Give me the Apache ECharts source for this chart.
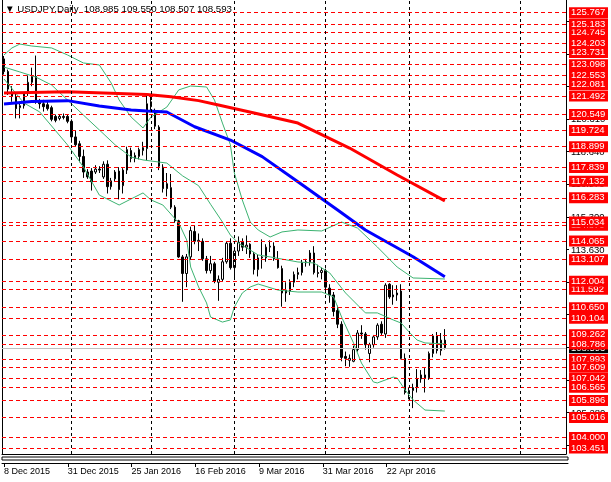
<!DOCTYPE html>
<html><head><meta charset="utf-8">
<script src="https://cdn.jsdelivr.net/npm/echarts@6/dist/echarts.min.js"></script>
<style>html,body{margin:0;padding:0;background:#fff}#c{width:611px;height:482px}</style>
</head><body><div id="c"></div>
<script>
const dates = ['8 Dec 2015','9 Dec 2015','10 Dec 2015','11 Dec 2015','14 Dec 2015','15 Dec 2015','16 Dec 2015','17 Dec 2015','18 Dec 2015','21 Dec 2015','22 Dec 2015','23 Dec 2015','24 Dec 2015','28 Dec 2015','29 Dec 2015','30 Dec 2015','31 Dec 2015',
'4 Jan 2016','5 Jan 2016','6 Jan 2016','7 Jan 2016','8 Jan 2016','11 Jan 2016','12 Jan 2016','13 Jan 2016','14 Jan 2016','15 Jan 2016','18 Jan 2016','19 Jan 2016','20 Jan 2016','21 Jan 2016','22 Jan 2016','25 Jan 2016','26 Jan 2016','27 Jan 2016','28 Jan 2016','29 Jan 2016',
'1 Feb 2016','2 Feb 2016','3 Feb 2016','4 Feb 2016','5 Feb 2016','8 Feb 2016','9 Feb 2016','10 Feb 2016','11 Feb 2016','12 Feb 2016','15 Feb 2016','16 Feb 2016','17 Feb 2016','18 Feb 2016','19 Feb 2016','22 Feb 2016','23 Feb 2016','24 Feb 2016','25 Feb 2016','26 Feb 2016','29 Feb 2016',
'1 Mar 2016','2 Mar 2016','3 Mar 2016','4 Mar 2016','7 Mar 2016','8 Mar 2016','9 Mar 2016','10 Mar 2016','11 Mar 2016','14 Mar 2016','15 Mar 2016','16 Mar 2016','17 Mar 2016','18 Mar 2016','21 Mar 2016','22 Mar 2016','23 Mar 2016','24 Mar 2016','25 Mar 2016','28 Mar 2016','29 Mar 2016','30 Mar 2016','31 Mar 2016',
'1 Apr 2016','4 Apr 2016','5 Apr 2016','6 Apr 2016','7 Apr 2016','8 Apr 2016','11 Apr 2016','12 Apr 2016','13 Apr 2016','14 Apr 2016','15 Apr 2016','18 Apr 2016','19 Apr 2016','20 Apr 2016','21 Apr 2016','22 Apr 2016','25 Apr 2016','26 Apr 2016','27 Apr 2016','28 Apr 2016','29 Apr 2016',
'2 May 2016','3 May 2016','4 May 2016','5 May 2016','6 May 2016','9 May 2016','10 May 2016','11 May 2016','12 May 2016','13 May 2016'];

const opens  = [123.40,122.75,121.60,121.45,120.90,121.00,121.65,122.20,122.50,121.20,121.10,121.05,120.90,120.45,120.35,120.45,120.45,
120.20,119.40,119.05,118.40,117.60,117.65,117.60,117.75,117.35,118.00,116.85,117.25,117.65,116.90,117.70,118.70,118.30,118.40,118.70,118.80,
121.20,120.70,119.90,117.85,117.00,116.80,115.80,115.10,113.25,112.40,113.25,114.55,114.05,114.05,113.15,112.55,112.90,111.95,112.10,113.00,113.95,
112.70,113.55,114.00,113.75,113.90,113.40,112.60,113.20,113.20,113.75,113.80,113.15,112.65,111.40,111.50,111.95,112.35,112.45,112.95,113.00,113.45,112.45,112.45,
112.55,111.65,111.30,110.50,109.80,108.15,107.95,107.90,108.50,109.35,109.30,108.30,108.75,109.15,109.80,109.30,111.85,111.20,111.30,111.50,108.05,
106.30,106.40,106.55,107.00,107.20,107.05,108.30,109.20,108.45,108.985];
const highs  = [123.55,122.85,122.00,121.60,121.20,121.70,122.55,122.95,123.57,121.35,121.30,121.25,121.00,120.55,120.55,120.60,120.55,
120.30,119.70,119.20,118.75,117.75,117.80,117.95,117.90,118.15,118.20,117.30,117.70,117.85,117.80,118.90,118.85,118.60,118.85,119.15,121.50,
121.50,120.85,120.00,118.00,117.55,117.50,115.90,115.15,113.35,113.40,114.80,114.85,114.45,114.20,113.30,113.30,113.00,112.30,113.20,114.05,114.20,
113.75,114.30,114.20,114.35,113.95,113.50,113.35,114.15,113.90,114.10,114.00,113.55,112.80,111.95,112.10,112.50,112.70,113.10,113.15,113.60,113.80,112.85,112.70,
112.65,111.85,111.45,110.75,109.95,108.40,108.25,108.70,109.50,109.75,109.40,108.85,109.25,109.85,109.95,111.90,111.90,111.80,111.80,111.85,108.30,
106.55,106.75,107.50,107.45,107.55,108.40,109.30,109.40,109.35,109.55];
const lows   = [122.60,121.55,121.20,120.35,120.35,120.85,121.50,122.00,121.10,120.85,120.70,120.75,120.20,120.15,120.25,120.30,120.10,
119.10,118.90,118.10,117.30,117.25,116.65,117.50,117.55,117.25,116.50,116.70,117.10,116.20,116.50,117.50,118.10,118.10,118.25,118.45,118.20,
120.75,119.80,117.70,116.55,116.35,115.70,115.00,113.20,110.95,111.70,113.10,113.90,113.55,113.05,112.40,112.40,111.90,111.00,112.00,112.90,112.60,
112.20,113.30,113.55,113.40,113.20,112.35,112.25,112.65,113.00,113.50,113.05,112.65,110.70,110.95,111.30,111.70,112.10,112.30,112.75,112.80,112.35,112.20,112.10,
111.40,110.90,110.20,109.60,107.90,107.65,107.62,107.85,108.40,109.05,108.50,107.85,108.60,109.00,109.25,109.10,111.10,110.80,111.00,108.00,106.20,
105.95,105.50,106.30,106.80,106.30,106.95,108.10,108.30,108.20,108.507];
const closes = [122.75,121.85,121.50,120.85,121.00,121.60,122.20,122.50,121.20,121.10,120.95,120.85,120.30,120.25,120.45,120.40,120.20,
119.40,119.00,118.40,117.60,117.35,117.10,117.75,117.70,118.00,116.85,117.15,117.60,116.70,117.70,118.75,118.30,118.45,118.75,118.85,121.10,
120.95,119.95,117.90,116.75,116.75,115.80,115.10,113.25,112.40,113.25,114.60,114.05,114.10,113.15,112.55,112.90,112.00,112.10,113.00,113.95,112.70,
113.55,114.00,113.75,113.85,113.40,112.60,113.20,113.25,113.75,113.80,113.15,112.70,111.40,111.55,111.95,112.35,112.45,112.95,113.00,113.45,112.45,112.40,112.55,
111.70,111.30,110.45,109.80,108.10,108.05,108.05,108.50,109.35,109.30,108.75,108.75,109.15,109.75,109.35,111.80,111.20,111.30,111.40,108.05,106.30,
106.40,106.55,107.00,107.20,107.05,108.30,109.20,108.45,108.985,108.593];

const maRed   = [[0,121.65],[16,121.72],[36,121.58],[42,121.46],[49,121.26],[54,121.04],[63,120.63],[74,120.11],[87,118.83],[99,117.45],[111,116.12]];
const maBlue  = [[0,121.09],[7,121.21],[16,121.26],[24,120.99],[32,120.78],[36,120.73],[41,120.68],[48,119.92],[57,119.24],[65,118.39],[74,117.10],[84,115.65],[91,114.63],[103,113.26],[111,112.23]];
const bbUpper = [[0,123.60],[2,123.96],[4,124.16],[7,124.06],[12,123.96],[16,123.60],[20,123.19],[24,123.09],[27,122.16],[29,121.29],[32,120.42],[35,119.86],[37,120.42],[41,120.93],[44,121.81],[47,122.01],[51,121.96],[53,121.29],[55,120.11],[57,119.00],[58,117.55],[60,116.17],[62,115.04],[64,114.63],[67,114.27],[70,114.53],[74,114.63],[80,114.58],[85,115.04],[89,114.73],[94,113.76],[99,112.73],[103,112.17],[111,112.12]];
const bbMiddle = [[0,122.98],[4,122.73],[8,122.47],[12,122.06],[16,121.29],[20,120.52],[24,119.76],[28,118.99],[32,118.37],[35,118.22],[41,118.06],[45,117.40],[49,116.90],[52,115.95],[55,115.04],[57,114.37],[59,113.96],[62,113.60],[64,113.35],[67,113.25],[74,112.99],[78,112.94],[82,112.43],[86,111.40],[91,110.38],[94,110.38],[98,110.02],[100,109.86],[102,109.40],[104,108.99],[106,108.84],[111,108.79]];
const bbLower = [[0,122.37],[5,121.14],[9,120.68],[16,118.99],[20,117.86],[24,116.42],[29,115.91],[35,116.53],[37,116.17],[40,115.91],[44,114.99],[46,114.12],[47,112.73],[49,111.71],[51,110.89],[52,110.17],[55,109.91],[57,110.02],[58,110.68],[60,111.40],[62,111.71],[64,111.86],[69,111.55],[74,111.45],[80,111.45],[83,111.20],[85,110.17],[88,108.84],[90,107.81],[93,106.84],[94,106.79],[98,107.09],[99,107.04],[101,106.43],[103,105.92],[106,105.40],[111,105.35]];

const levels = [125.767,125.183,124.745,124.203,123.731,123.098,122.553,122.081,121.492,120.549,119.724,118.899,117.839,117.132,116.283,115.034,114.870,114.065,113.107,112.004,111.592,110.650,110.104,109.262,108.786,107.609,107.993,107.042,106.565,105.896,105.016,104.000,103.451];
const scaleTicks = [103.61,105.28,106.95,108.62,110.29,111.96,113.63,115.30,116.97,118.64,120.31,121.98,123.65,125.32];
const lastPrice = 108.593;
const separators = [17,37,58,81,102,130];
const emptySlots = 30;
const titleText = '\u25BC USDJPY,Daily  108.985 109.550 108.507 108.593';

const Y_MIN = 103.148, Y_MAX = 126.418;
const FONT = 'Liberation Sans';
const cats = dates.concat(new Array(emptySlots).fill(''));
const candles = opens.map((o, i) => [o, closes[i], lows[i], highs[i]]);
const showAt = (i, v) => i % 16 === 0 && v !== '';
// split the level labels over two label layers so that neighbouring boxes never sit on the same axis
const levelsA = levels.filter((v, i) => i % 2 === 0);
const levelsB = levels.filter((v, i) => i % 2 === 1);

const chart = echarts.init(document.getElementById('c'), null, {renderer: 'canvas'});
const lineS = (data, color, width, z) => ({type: 'line', data, xAxisIndex: 0, yAxisIndex: 0, showSymbol: false, symbol: 'none', silent: true, z,
  lineStyle: {color, width}, animation: false});
const boxLabel = {padding: [1, 1, 0, 2], width: 36, fontSize: 9.5, lineHeight: 10, fontFamily: FONT};
const redAxis = (vals, zl) => ({type: 'value', gridIndex: 0, min: Y_MIN, max: Y_MAX, position: 'right', zlevel: zl,
  axisLine: {show: false}, axisTick: {show: false}, splitLine: {show: false},
  axisLabel: Object.assign({customValues: vals, showMinLabel: true, showMaxLabel: true, margin: 3, color: '#fff', backgroundColor: '#ff0000',
    formatter: v => v.toFixed(3)}, boxLabel)});

chart.setOption({
  animation: false,
  backgroundColor: '#fff',
  title: {text: titleText, left: 5, top: 4, padding: 0, textStyle: {fontSize: 9.7, fontWeight: 'normal', color: '#000', fontFamily: FONT}},
  grid: [
    {left: 2, top: 0, width: 566, height: 454, show: false},
    {left: 2, top: 457, width: 566, height: 3, show: true, borderColor: '#000', borderWidth: 1, backgroundColor: 'transparent'},
    {left: 2, top: 462, width: 566, height: 1, show: false}
  ],
  xAxis: [
    {type: 'category', gridIndex: 0, data: cats, boundaryGap: true, axisLine: {show: true, onZero: false, lineStyle: {color: '#000'}}, axisTick: {show: false}, axisLabel: {show: false}, splitLine: {show: false}},
    {type: 'category', gridIndex: 1, data: cats, show: false},
    {type: 'category', gridIndex: 2, data: cats, boundaryGap: true, position: 'bottom',
      axisLine: {show: true, lineStyle: {color: '#000', width: 1}},
      axisTick: {show: true, interval: showAt, alignWithLabel: true, length: 4, lineStyle: {color: '#000'}},
      axisLabel: {interval: showAt, align: 'left', margin: 4, fontSize: 9, color: '#000', fontFamily: FONT},
      splitLine: {show: false}}
  ],
  yAxis: [
    {type: 'value', gridIndex: 0, min: Y_MIN, max: Y_MAX, position: 'right',
      axisLine: {show: true, lineStyle: {color: '#000'}},
      axisTick: {show: true, customValues: scaleTicks, length: 3, lineStyle: {color: '#000'}},
      axisLabel: {customValues: scaleTicks.filter(v => v !== 108.62).concat([lastPrice]), showMinLabel: true, showMaxLabel: true,
        margin: 3, fontSize: 9.5, lineHeight: 10, fontFamily: FONT,
        formatter: v => Math.abs(v - lastPrice) < 1e-6 ? '{cur|' + v.toFixed(3) + '}' : '{n|' + v.toFixed(3) + '}',
        rich: {cur: Object.assign({backgroundColor: '#000', color: '#fff'}, boxLabel), n: Object.assign({color: '#000'}, boxLabel)}},
      splitLine: {show: false}},
    redAxis(levelsA, 1),
    redAxis(levelsB, 2),
    {type: 'value', gridIndex: 1, show: false},
    {type: 'value', gridIndex: 2, show: false},
    {type: 'value', gridIndex: 0, min: Y_MIN, max: Y_MAX, position: 'left',
      axisLine: {show: true, lineStyle: {color: '#000'}}, axisTick: {show: false}, axisLabel: {show: false}, splitLine: {show: false}}
  ],
  series: [
    {type: 'candlestick', xAxisIndex: 0, yAxisIndex: 0, data: candles, barWidth: 2, silent: true, z: 2,
      itemStyle: {color: '#ffffff', color0: '#000000', borderColor: '#000000', borderColor0: '#000000', borderWidth: 1},
      markLine: {silent: true, symbol: ['none', 'none'], animation: false, label: {show: false},
        data: levels.map(v => ({yAxis: v, lineStyle: {color: '#ff0000', type: [4, 3], width: 1}}))
          .concat(separators.map(i => ({xAxis: i, lineStyle: {color: '#000', type: [3, 3], width: 1}})))
          .concat([{yAxis: lastPrice, lineStyle: {color: '#c0c0c0', type: 'solid', width: 1}}])}},
    lineS(bbUpper, '#3cb371', 1, 3),
    lineS(bbMiddle, '#3cb371', 1, 3),
    lineS(bbLower, '#3cb371', 1, 3),
    lineS(maRed, '#ff0000', 3, 4),
    lineS(maBlue, '#0000ff', 3, 4)
  ]
});
</script>
</body></html>
